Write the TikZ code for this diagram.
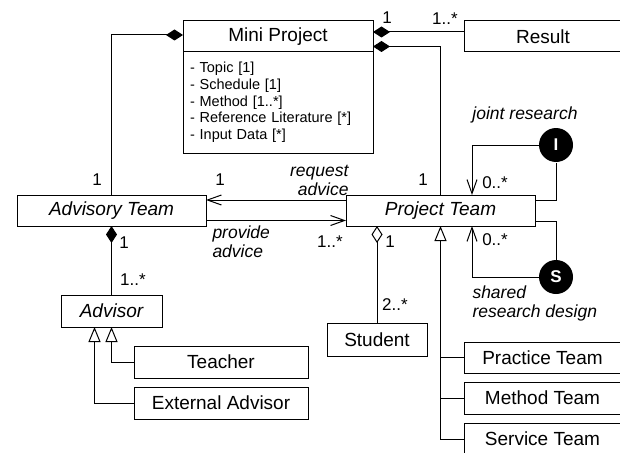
\documentclass[tikz,border=0pt]{standalone}
\usepackage{fontspec}
\setmainfont{Liberation Sans}
\usepackage{tikz}
\usetikzlibrary{arrows.meta}

\begin{document}
\begin{tikzpicture}[x=1pt,y=-1pt,line width=1pt,
		cls/.style={draw,rectangle,inner sep=0pt,outer sep=0pt,minimum height=31pt,font=\fontsize{19}{22}\selectfont},
		abstr/.style={cls,font=\fontsize{19}{22}\selectfont\itshape},
		mult/.style={inner sep=0pt,font=\fontsize{17}{20}\selectfont},
		role/.style={inner sep=0pt,align=left,font=\fontsize{17.5}{19}\selectfont\itshape},
		iface/.style={circle,fill=black,text=white,minimum size=34pt,inner sep=0pt,font=\fontsize{17}{20}\selectfont\bfseries},
		comp/.style={-{Diamond[length=17pt,width=11pt]}},
		aggr/.style={-{Diamond[open,length=17pt,width=11pt]}},
		gen/.style={-{Triangle[open,length=15pt,width=12pt]}},
		nav/.style={-{Straight Barb[length=14pt,width=10pt]}}]
				\useasboundingbox (0,0) rectangle (620,452);
				\clip (0,0) rectangle (620,452);
				
				% classes
				\node[cls,minimum width=190pt] (mp) at (278,36.5) {Mini Project};
				\node[draw,anchor=north west,inner xsep=7pt,inner ysep=0pt,outer sep=0pt,text width=176pt,minimum height=101pt,align=left,font=\fontsize{14.5}{16.7}\selectfont] (mpattr) at (183,52) {- Topic [1]\\- Schedule [1]\\- Method [1..*]\\- Reference Literature [*]\\- Input Data [*]};
				\node[cls,minimum width=158pt] (res) at (543,36.5) {Result};
				\node[abstr,minimum width=189pt] (advteam) at (111.5,210.5) {Advisory Team};
				\node[abstr,minimum width=189pt] (projteam) at (440.5,210.5) {Project Team};
				\node[abstr,minimum width=101pt,minimum height=32pt] (advisor) at (111.5,311) {Advisor};
				\node[cls,minimum width=174pt,minimum height=32pt] (teacher) at (221,362) {Teacher};
				\node[cls,minimum width=174pt,minimum height=32pt] (external) at (221,403) {External Advisor};
				\node[cls,minimum width=100pt,minimum height=33pt] (student) at (377,339.5) {Student};
				\node[cls,minimum width=157pt] (practice) at (542.5,357.5) {Practice Team};
				\node[cls,minimum width=157pt,minimum height=32pt] (method) at (542.5,398) {Method Team};
				\node[cls,minimum width=157pt,minimum height=32pt] (service) at (542.5,439) {Service Team};
				
				\node[iface] (ijoint) at (556,145) {I};
				\node[iface] (ishared) at (556,277) {S};
				
				% associations
				\draw[comp] (advteam.north) |- ([yshift=1.5pt]mp.west);
				\draw[comp] ([yshift=4.5pt]res.west) -- ([yshift=4.5pt]mp.east);
				\draw[comp] (projteam.north) |- ([yshift=-10pt]mp.east);
				\draw[nav] ([yshift=10.5pt]projteam.west) -- ([yshift=10.5pt]advteam.east);
				\draw[nav] ([yshift=-10pt]advteam.east) -- ([yshift=-10pt]projteam.west);
				\draw[comp] (advisor.north) -- (advteam.south);
				\draw[aggr] (student.north) -- (student.north |- projteam.south);
				
				% generalisations
				\draw[gen] (teacher.west) -| (advisor.south);
				\draw[gen] (external.west) -| ([xshift=-17pt]advisor.south);
				\draw[gen] (service.west) -| (projteam.south);
				\draw (practice.west) -- (practice.west -| projteam.south);
				\draw (method.west) -- (method.west -| projteam.south);
				
				% self associations
				\draw ([yshift=10.5pt]projteam.east) -| (ijoint.south);
				\draw[nav] (ijoint.west) -| ([xshift=31.5pt]projteam.north);
				\draw ([yshift=-10.5pt]projteam.east) -| (ishared.north);
				\draw[nav] (ishared.west) -| ([xshift=31.5pt]projteam.south);
				
				% multiplicities
				\node[mult] (mpres) at (387,18) {1};
				\node[mult] (resmp) at (445,19) {1..*};
				\node[mult] (advmp) at (97,180) {1};
				\node[mult] (advreq) at (220,180) {1};
				\node[mult] (projmp) at (423,180) {1};
				\node[mult] (projjoint) at (495,183) {0..*};
				\node[mult] (advadvisor) at (124,243) {1};
				\node[mult] (advisoradv) at (133,280) {1..*};
				\node[mult] (projprov) at (330,242) {1..*};
				\node[mult] (projstud) at (390,242) {1};
				\node[mult] (projshared) at (495,240) {0..*};
				\node[mult] (studproj) at (395,305) {2..*};
				
				% roles
				\node[role,anchor=east,align=right] (request) at (349,180) {request\\advice};
				\node[role,anchor=west] (provide) at (212,242) {provide\\advice};
				\node[role] (joint) at (525,115) {joint research};
				\node[role,anchor=west] (shared) at (472,303) {shared\\research design};
			\end{tikzpicture}
\end{document}
